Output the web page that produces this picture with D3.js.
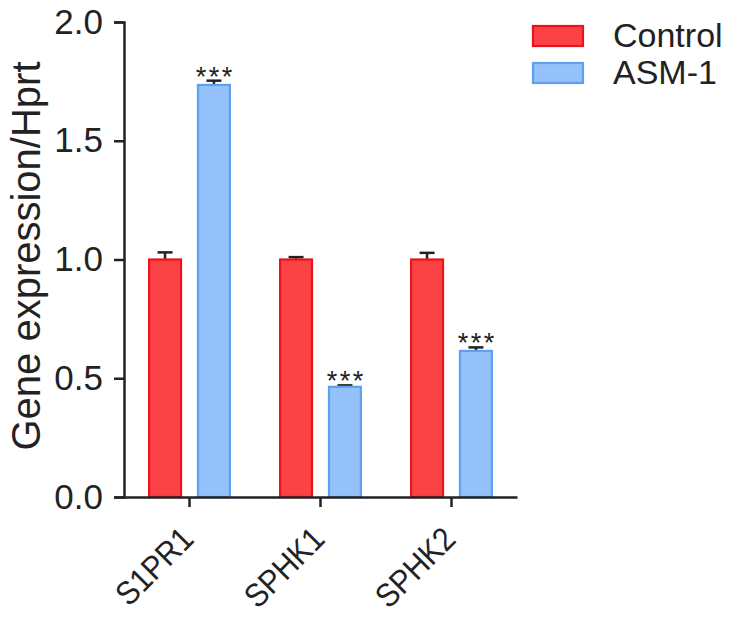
<!DOCTYPE html>
<html><head><meta charset="utf-8">
<script src="https://cdn.jsdelivr.net/npm/d3@7"></script>
<style>body{margin:0;background:#fff}svg{display:block}text{font-family:Arial,"Liberation Sans",sans-serif;fill:#222}</style>
</head><body><div id="chart"></div>
<script>
const categories = ["S1PR1", "SPHK1", "SPHK2"];
const seriesNames = ["Control", "ASM-1"];
const controlValues = [1.0, 1.0, 1.0];
const controlErrors = [0.03, 0.01, 0.028];
const asmValues = [1.735, 0.464, 0.615];
const asmErrors = [0.018, 0.006, 0.015];
const significance = ["***", "***", "***"];
const yTicks = [0, 0.5, 1.0, 1.5, 2.0];
const yLabel = "Gene expression/Hprt";

const W = 731, H = 618;
const m = {left: 124, right: 214, top: 22, bottom: 121};
const svg = d3.select("#chart").append("svg").attr("width", W).attr("height", H);

const x0 = d3.scaleBand().domain(categories).range([m.left, W - m.right]).paddingInner(0).paddingOuter(0);
const x1 = d3.scaleBand().domain(seriesNames).range([0, x0.bandwidth()]).paddingInner(15/49).paddingOuter(0.493);
const y = d3.scaleLinear().domain([0, 2]).range([H - m.bottom, m.top]);

const fills = {"Control": "#fb4244", "ASM-1": "#94c1f9"};
const strokes = {"Control": "#e8131b", "ASM-1": "#5d9ff0"};

const rows = categories.map((c, i) => ({
  cat: c,
  bars: [
    {s: "Control", v: controlValues[i], e: controlErrors[i], sig: null},
    {s: "ASM-1", v: asmValues[i], e: asmErrors[i], sig: significance[i]}
  ]
}));

const g = svg.append("g");
const groups = g.selectAll("g.grp").data(rows).join("g").attr("transform", d => `translate(${x0(d.cat)},0)`);

// error bars (upward only)
groups.selectAll("g.err").data(d => d.bars).join("g").each(function(d) {
  const cx = x1(d.s) + x1.bandwidth() / 2;
  const sel = d3.select(this);
  sel.append("line").attr("x1", cx).attr("x2", cx).attr("y1", y(d.v)).attr("y2", y(d.v + d.e))
    .attr("stroke", "#222").attr("stroke-width", 2.5);
  sel.append("line").attr("x1", cx - 7.5).attr("x2", cx + 7.5).attr("y1", y(d.v + d.e)).attr("y2", y(d.v + d.e))
    .attr("stroke", "#222").attr("stroke-width", 2.5);
});

groups.selectAll("rect").data(d => d.bars).join("rect")
  .attr("x", d => x1(d.s) + 1)
  .attr("width", x1.bandwidth() - 2)
  .attr("y", d => y(d.v))
  .attr("height", d => y(0) - y(d.v))
  .attr("fill", d => fills[d.s])
  .attr("stroke", d => strokes[d.s])
  .attr("stroke-width", 2.2);

groups.selectAll("text.sig").data(d => d.bars.filter(b => b.sig)).join("text")
  .attr("class", "sig")
  .attr("x", d => x1(d.s) + x1.bandwidth() / 2 + 1.25)
  .attr("y", d => y(d.v + d.e) + 5)
  .attr("text-anchor", "middle")
  .attr("font-size", 27)
  .attr("letter-spacing", 2.5)
  .text(d => d.sig);

// y axis
const yAxis = d3.axisLeft(y).tickValues(yTicks).tickFormat(d3.format(".1f")).tickSize(10).tickPadding(11);
const ya = svg.append("g").attr("transform", `translate(${m.left},0)`).call(yAxis);
ya.select(".domain").attr("stroke", "#222").attr("stroke-width", 2.5);
ya.selectAll(".tick line").attr("stroke", "#222").attr("stroke-width", 2.5);
ya.selectAll(".tick text").attr("font-size", 35).attr("fill", "#222").attr("font-family", "Arial, Liberation Sans, sans-serif");

// x axis
const xAxis = d3.axisBottom(x0).tickSize(10).tickSizeOuter(0);
const xa = svg.append("g").attr("transform", `translate(0,${y(0)})`).call(xAxis);
xa.select(".domain").attr("stroke", "#222").attr("stroke-width", 2.5);
xa.selectAll(".tick line").attr("stroke", "#222").attr("stroke-width", 2.5);
xa.selectAll(".tick text").attr("font-size", 33).attr("fill", "#222").attr("font-family", "Arial, Liberation Sans, sans-serif")
  .attr("text-anchor", "end").attr("x", 0).attr("y", 0).attr("dy", 0)
  .attr("transform", "translate(6,44) rotate(-45) scale(0.9,1)");

// y label
svg.append("text").attr("transform", `translate(40,256) rotate(-90)`)
  .attr("text-anchor", "middle").attr("font-size", 40).text(yLabel);

// legend
const leg = svg.append("g").attr("transform", "translate(532,25)");
seriesNames.forEach((s, i) => {
  const r = leg.append("g").attr("transform", `translate(0,${i * 37})`);
  r.append("rect").attr("x", 1).attr("y", 1).attr("width", 50).attr("height", 20)
    .attr("fill", fills[s]).attr("stroke", strokes[s]).attr("stroke-width", 2.2);
  r.append("text").attr("x", 81).attr("y", 22).attr("font-size", 34).text(s);
});
</script></body></html>
